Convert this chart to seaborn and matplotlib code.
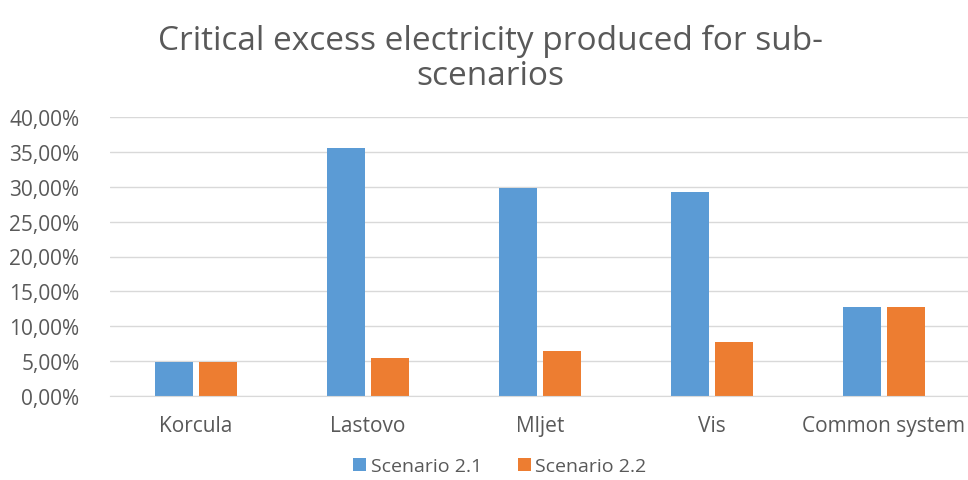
import matplotlib
matplotlib.use("Agg")
import matplotlib.pyplot as plt
import seaborn as sns
import pandas as pd
from matplotlib.ticker import FuncFormatter, MultipleLocator

categories = ["Korcula", "Lastovo", "Mljet", "Vis", "Common system"]
scenario_21 = [4.9, 35.6, 29.8, 29.2, 12.8]
scenario_22 = [4.9, 5.4, 6.4, 7.8, 12.8]
series_names = ["Scenario 2.1", "Scenario 2.2"]
colors = ["#5B9BD5", "#ED7D31"]

df = pd.DataFrame({
    "category": categories * 2,
    "value": scenario_21 + scenario_22,
    "series": [series_names[0]] * len(categories) + [series_names[1]] * len(categories),
})

sns.set_style("white")
plt.rcParams["font.family"] = ["Open Sans", "DejaVu Sans"]

fig = plt.figure(figsize=(9.68, 4.81), dpi=100)
ax = fig.add_axes([110 / 968, 1 - 397 / 481, 860 / 968, 279 / 481])

sns.barplot(data=df, x="category", y="value", hue="series", palette=colors,
            width=0.512, gap=0.14, ax=ax, saturation=1, linewidth=0)

ax.set_ylim(0, 40)
ax.yaxis.set_major_locator(MultipleLocator(5))
ax.yaxis.set_major_formatter(FuncFormatter(lambda v, p: f"{v:.2f}".replace(".", ",") + "%"))
ax.grid(axis="y", color="#D9D9D9", linewidth=1)
ax.set_axisbelow(True)
for s in ["top", "right", "left"]:
    ax.spines[s].set_visible(False)
ax.spines["bottom"].set_color("#D9D9D9")
ax.tick_params(axis="both", length=0, labelsize=15, colors="#595959")
ax.tick_params(axis="x", pad=14)
ax.tick_params(axis="y", pad=22)
ax.set_xlabel("")
ax.set_ylabel("")

ax.legend(loc="center", bbox_to_anchor=(500 / 968, 1 - 467 / 481),
          bbox_transform=fig.transFigure, ncol=2, frameon=False,
          fontsize=14, labelcolor="#595959", handlelength=0.65, handleheight=0.65,
          columnspacing=1.85, handletextpad=0.25)

fig.text(490 / 968, 1 - 59 / 481, "Critical excess electricity produced for sub-\nscenarios",
         ha="center", va="center", fontsize=24, color="#595959", linespacing=1.05)

fig.savefig("out.png", dpi=100)
